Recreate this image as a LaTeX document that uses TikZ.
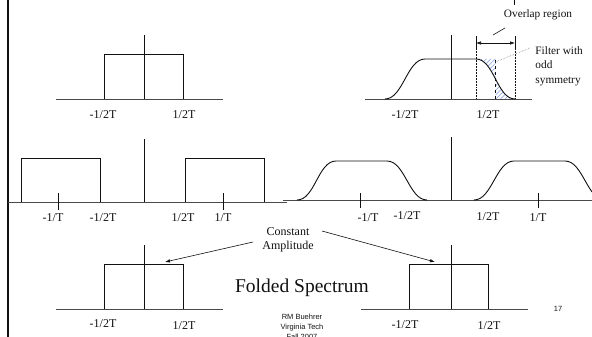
\documentclass[tikz,border=0pt]{standalone}
\usepackage{fontspec}
\setmainfont{Liberation Serif}
\newfontfamily\footfont{Liberation Sans}
\usetikzlibrary{arrows.meta,patterns.meta}
\definecolor{ink}{HTML}{111111}
\definecolor{axisgray}{HTML}{4A4A4A}
\definecolor{hatchblue}{HTML}{7E9CE0}
\definecolor{leadgray}{HTML}{8A8A8A}

\begin{document}
\begin{tikzpicture}[x=1pt,y=-1pt,line width=.9pt,ink,
  ax/.style={axisgray,line width=.9pt},
  lab/.style={font=\fontsize{12}{14}\selectfont,inner sep=0pt},
  note/.style={font=\fontsize{11.3}{14.5}\selectfont,align=left,inner sep=0pt},
  foot/.style={font=\footfont\fontsize{7.5}{10}\selectfont,align=center,inner sep=0pt},
  hatch/.style={pattern={Lines[angle=45,distance=3.2pt,line width=.55pt]},pattern color=hatchblue},
  tip/.style={-{Latex[length=5pt,width=3.5pt]},line width=.6pt}]
\useasboundingbox (0,0) rectangle (592,337);\clip (0,0) rectangle (592,337);
\draw[line width=2.2pt] (8,0)--(8,337);
% top left: ideal low pass
\draw[ax] (56,99)--(223,99);\draw (144,35)--(144,99);\draw (104,99)--(104,54)--(183,54)--(183,99);
\node[lab] (tl1) at (103,115) {-1/2T};\node[lab] (tl2) at (184,115) {1/2T};
% top right: raised cosine with overlap
\fill[hatch] (476,59) .. controls (485,59) and (490.25,69) .. (495.5,79)--(495.5,59)--cycle;
\fill[hatch] (495.5,79) .. controls (500.75,89) and (506,99) .. (515,99)--(495.5,99)--cycle;
\draw[ax] (365,99)--(532,99);\draw (451,35)--(451,99);
\draw (385,99) .. controls (403,99) and (407,59) .. (425,59)--(476,59) .. controls (494,59) and (497,99) .. (515,99);
\draw[densely dotted,line width=.5pt] (476,48)--(476,99) (515,48)--(515,99);
\draw[line width=.6pt] (476,36)--(476,48) (515,36)--(515,48) (514,0)--(514,5);
\coordinate (ol1) at (476,43);\coordinate (ol2) at (515,43);
\draw[{Latex[length=5pt,width=3.5pt]}-{Latex[length=5pt,width=3.5pt]},line width=.6pt] (ol1)--(ol2);
\draw[dashed,line width=.9pt] (495.5,60)--(495.5,99);
\node[note] (ov) at (538,15) {Overlap region};
\coordinate (ov1) at (493,35);\coordinate (ov2) at (505,28);\draw[line width=.6pt] (ov1)--(ov2);
\node[note,anchor=west] (odd) at (535,66) {Filter with\\odd\\symmetry};
\coordinate (od1) at (495.5,62);\coordinate (od2) at (530,48);\draw[leadgray,densely dotted,line width=.6pt] (od1)--(od2);
\node[lab] (tr1) at (405,115) {-1/2T};\node[lab] (tr2) at (488,115) {1/2T};
% middle left: shifted copies, no overlap
\draw[ax] (8,202)--(287,202);\draw (144,139)--(144,202);
\draw (21,202)--(21,158)--(100,158)--(100,202);\draw (185,202)--(185,158)--(264,158)--(264,202);
\draw (58,193)--(58,210) (223,193)--(223,210);
\node[lab] (ml1) at (53,218) {-1/T};\node[lab] (ml2) at (103,218) {-1/2T};
\node[lab] (ml3) at (183,218) {1/2T};\node[lab] (ml4) at (223,218) {1/T};
% middle right: shifted raised cosines
\draw[ax] (283,200)--(592,200);\draw (451,137)--(451,200);
\draw (297,200) .. controls (315,200) and (318,161) .. (336,161)--(387,161) .. controls (405,161) and (409,200) .. (427,200);
\draw (474,200) .. controls (492,200) and (496,161) .. (514,161)--(565,161) .. controls (583,161) and (587,200) .. (605,200);
\draw (360,193)--(360,208) (538,193)--(538,208);
\node[lab] (mr1) at (368,218) {-1/T};\node[lab] (mr2) at (407,216) {-1/2T};
\node[lab] (mr3) at (488,217) {1/2T};\node[lab] (mr4) at (538,218) {1/T};
% bottom: folded spectra
\draw[ax] (56,309)--(223,309);\draw (144,245)--(144,309);\draw (104,309)--(104,264)--(183,264)--(183,309);
\node[lab] (bl1) at (103,324) {-1/2T};\node[lab] (bl2) at (184,326) {1/2T};
\draw[ax] (361,309)--(528,309);\draw (451,245)--(451,309);\draw (409,309)--(409,264)--(488,264)--(488,309);
\node[lab] (br1) at (405,325) {-1/2T};\node[lab] (br2) at (489,326) {1/2T};
\node[lab,align=center] (ca) at (288,240) {Constant\\Amplitude};
\coordinate (ca1) at (253,242);\coordinate (ca2) at (322,231);
\coordinate (cl) at (165,262);\coordinate (cr) at (435,262);
\draw[tip] (ca1)--(cl);\draw[tip] (ca2)--(cr);
\node[font=\fontsize{19.5}{22}\selectfont,inner sep=0pt] (fs) at (302,288) {Folded Spectrum};
\node[foot] (ft) at (302,327) {RM Buehrer\\Virginia Tech\\Fall 2007};
\node[foot] (pg) at (558,309) {17};
\end{tikzpicture}
\end{document}
